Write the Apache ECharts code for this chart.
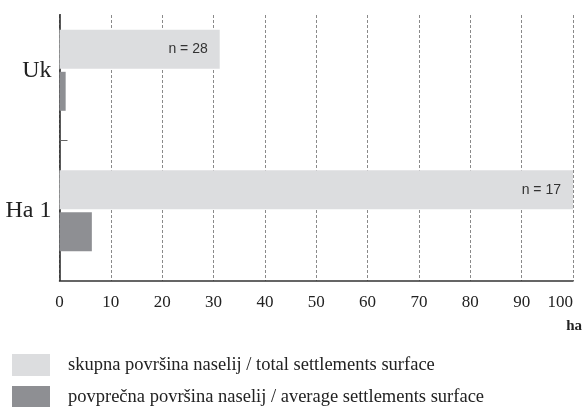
<!DOCTYPE html>
<html>
<head>
<meta charset="utf-8">
<script src="https://cdn.jsdelivr.net/npm/echarts@6/dist/echarts.min.js"></script>
<style>html,body{margin:0;padding:0;background:#fff}#c{width:586px;height:407px}</style>
</head>
<body>
<div id="c"></div>
<script>
var categories = ['Uk', 'Ha 1'];
var totalSurface = [31.2, 100];
var averageSurface = [1.2, 6.3];
var nCounts = [28, 17];
var xTicks = [0, 10, 20, 30, 40, 50, 60, 70, 80, 90, 100];
var seriesNames = ['skupna površina naselij / total settlements surface', 'povprečna površina naselij / average settlements surface'];
var unitLabel = 'ha';

var serif = '"Liberation Serif", "DejaVu Serif", serif';
var legendBase = {
  orient: 'vertical', left: 12, padding: 0, icon: 'rect', itemWidth: 38, itemHeight: 22,
  textStyle: {fontFamily: serif, fontSize: 18.5, color: '#222', padding: [0, 0, 0, 13]}
};
var chart = echarts.init(document.getElementById('c'), null, {renderer: 'canvas'});
chart.setOption({
  animation: false,
  backgroundColor: '#ffffff',
  grid: {left: 59.5, right: 13, top: -3, bottom: 126},
  xAxis: {
    type: 'value', min: xTicks[0], max: xTicks[xTicks.length - 1], interval: 10,
    axisLine: {show: true, lineStyle: {color: '#333', width: 1.5}},
    axisTick: {show: false},
    splitLine: {show: true, lineStyle: {color: '#8a8a8a', width: 1, type: [3, 2]}},
    axisLabel: {fontFamily: serif, fontSize: 17, color: '#222', margin: 13, alignMaxLabel: 'right'},
    name: unitLabel, nameLocation: 'end', nameGap: 9,
    nameTextStyle: {fontFamily: serif, fontSize: 15, fontWeight: 'bold', color: '#222', align: 'right', verticalAlign: 'top', padding: [38, 0, 0, 0]}
  },
  yAxis: {
    type: 'category', data: categories, inverse: true,
    axisLine: {show: true, lineStyle: {color: '#222', width: 1.5}},
    axisTick: {show: true, inside: true, length: 8, lineStyle: {color: '#666', width: 1}},
    axisLabel: {fontFamily: serif, fontSize: 24, color: '#222', margin: 8}
  },
  legend: [
    Object.assign({top: 354, data: [seriesNames[0]]}, legendBase),
    Object.assign({top: 386, data: [seriesNames[1]]}, legendBase)
  ],
  graphic: [{type: 'rect', left: 50, top: 0, shape: {width: 536, height: 14}, style: {fill: '#fff'}, z: 100}],
  series: [
    {
      name: seriesNames[0], type: 'bar', data: totalSurface, barWidth: 39, barGap: '8%',
      itemStyle: {color: '#dcdddf'},
      label: {show: true, position: 'insideRight', distance: 12, fontFamily: '"Liberation Sans", Arial, sans-serif', fontSize: 14, color: '#333',
        formatter: function (p) { return 'n = ' + nCounts[p.dataIndex]; }}
    },
    {
      name: seriesNames[1], type: 'bar', data: averageSurface, barWidth: 39, barGap: '8%',
      itemStyle: {color: '#8e8f93'}
    }
  ]
});
</script>
</body>
</html>
